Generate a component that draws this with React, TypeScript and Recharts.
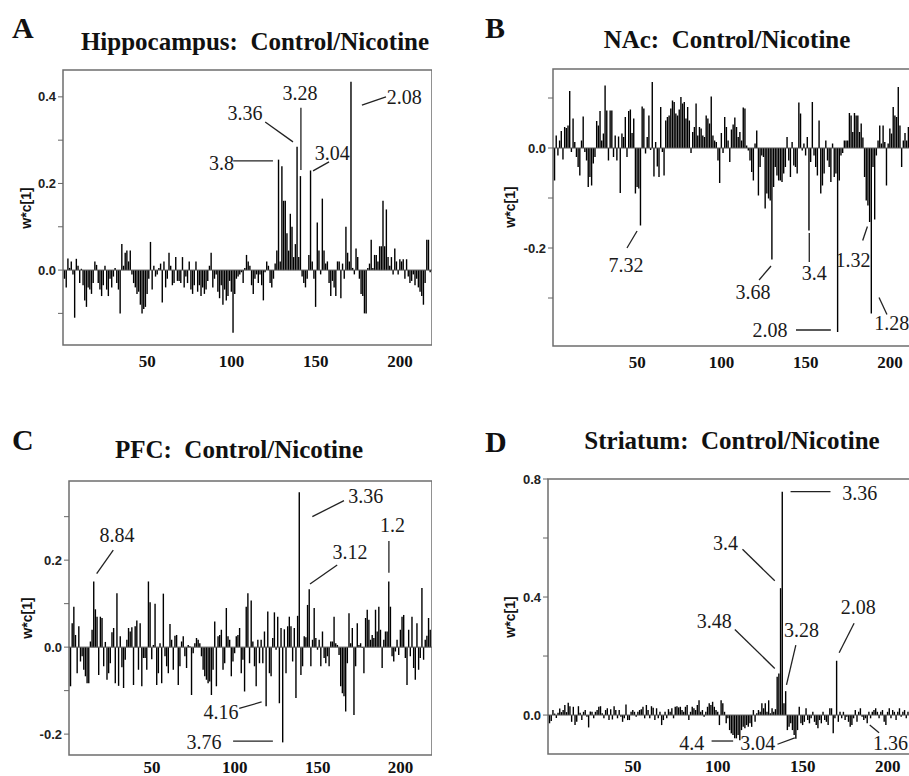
import React from 'react';
import { BarChart, Bar, XAxis, YAxis, ReferenceLine, ReferenceArea, ReferenceDot } from 'recharts';

// variable numbers on the x axis
const variables: number[] = Array.from({ length: 218 }, (_, i) => i + 1);
const xTicks = [50, 100, 150, 200];

const hippocampus = [
  -0.02, -0.04, 0.027, 0.005, 0.02, -0.01, -0.11, 0.026, 0.01, -0.03,
  0.003, -0.035, -0.07, -0.085, -0.04, -0.045, -0.055, -0.03, 0.02, 0.012,
  -0.03, -0.045, -0.06, -0.035, 0.01, -0.045, -0.06, -0.02, -0.04, -0.015,
  0.005, -0.03, -0.045, -0.1, 0.06, 0.01, 0.04, 0.045, 0.02, 0.045,
  -0.01, -0.03, -0.04, -0.055, -0.05, -0.08, -0.1, -0.09, -0.085, -0.055,
  -0.02, 0.065, -0.045, 0.01, -0.015, -0.01, 0.005, 0.015, -0.075, 0.02,
  -0.04, -0.02, 0.04, 0.01, -0.035, -0.03, 0.03, -0.025, -0.025, -0.03,
  0.03, -0.04, -0.015, -0.03, 0.02, -0.045, -0.055, -0.035, 0.02, -0.05,
  -0.035, -0.06, -0.04, -0.055, -0.045, -0.025, 0.01, 0.04, -0.04, -0.02,
  -0.01, -0.05, -0.065, -0.035, -0.08, -0.045, -0.07, -0.06, -0.025, -0.05,
  -0.145, -0.055, -0.02, -0.015, -0.01, -0.005, -0.03, 0.005, 0.035, 0.02,
  0.01, -0.035, -0.055, -0.02, -0.01, -0.03, -0.01, -0.035, -0.07, -0.005,
  0.02, 0.01, -0.03, -0.04, -0.02, 0.015, 0.045, 0.255, 0.02, 0.24,
  0.16, 0.16, 0.085, 0.045, 0.13, 0.1, 0.03, 0.06, 0.285, 0.03,
  0.217, -0.015, -0.03, -0.04, -0.02, 0.035, 0.23, 0.02, -0.02, -0.085,
  0.11, 0.045, -0.01, 0.165, 0.045, 0.015, 0.02, -0.03, -0.06, -0.025,
  -0.04, -0.06, 0.02, 0.02, -0.065, 0.015, -0.02, 0.1, 0.04, 0.02,
  0.435, 0.005, -0.01, 0.05, 0.03, -0.02, -0.055, -0.06, -0.1, -0.1,
  0.005, 0.015, 0.07, 0.005, 0.035, 0.035, 0.02, 0.055, 0.055, 0.16,
  0.055, 0.14, 0.03, 0.01, 0.03, -0.01, 0.05, 0.02, -0.01, 0.025,
  0.02, 0.025, -0.02, 0.025, -0.015, -0.03, -0.025, -0.01, -0.035, -0.02,
  -0.04, -0.05, -0.06, -0.08, -0.03, 0.07, 0.07, -0.005,
];

const nac = [
  -0.065, 0.025, -0.015, 0.015, 0.034, -0.023, 0.042, 0.04, 0.045, 0.114,
  -0.008, 0.059, 0.012, -0.018, -0.038, -0.055, 0.015, 0.063, -0.008, -0.025,
  -0.078, -0.058, -0.075, -0.031, -0.018, 0.054, 0.045, 0.074, 0.015, 0.029,
  0.125, 0.075, -0.025, 0.075, 0.075, -0.018, 0.025, -0.025, 0.023, -0.09,
  0.029, 0.022, 0.062, -0.018, 0.074, 0.077, 0.03, 0.059, -0.091, -0.078,
  -0.081, -0.155, 0.083, 0.079, -0.011, 0.022, 0.065, -0.004, 0.132, -0.057,
  0.012, -0.037, -0.058, 0.082, -0.008, -0.055, 0.055, 0.062, 0.065, 0.079,
  0.095, 0.092, 0.069, 0.065, 0.077, 0.102, 0.089, 0.092, 0.059, 0.082,
  0.055, -0.01, 0.032, 0.042, 0.089, 0.025, 0.042, 0.039, 0.025, 0.022,
  0.065, 0.059, 0.049, 0.103, 0.025, 0.015, 0.012, -0.025, -0.07, 0.03,
  -0.01, 0.062, 0.042, 0.015, -0.028, 0.037, 0.047, 0.061, 0.042, 0.022,
  0.032, 0.015, 0.081, 0.079, 0.005, -0.005, -0.025, -0.048, -0.065, 0.009,
  0.035, -0.095, -0.038, -0.015, -0.018, -0.121, -0.091, -0.101, -0.105, -0.223,
  -0.078, -0.038, -0.055, -0.065, -0.065, -0.068, -0.051, -0.038, 0.022, -0.025,
  -0.058, 0.012, -0.035, -0.038, -0.051, 0.091, 0.069, -0.005, 0.009, -0.015,
  0.022, -0.165, -0.028, 0.092, -0.015, -0.038, -0.055, 0.055, -0.091, -0.075,
  -0.051, 0.015, -0.025, -0.038, -0.068, 0.009, -0.058, -0.051, -0.368, -0.065,
  -0.015, -0.01, 0.015, 0.015, 0.015, 0.07, 0.065, 0.032, 0.07, 0.065,
  0.065, 0.032, 0.049, 0.021, -0.058, -0.105, -0.115, -0.148, -0.331, -0.038,
  -0.143, -0.015, 0.015, 0.045, 0.009, 0.045, 0.012, -0.075, 0.009, 0.039,
  0.029, 0.082, 0.065, 0.062, 0.122, 0.045, -0.038, 0.015, 0.03, 0.015,
  0.042, 0.02, -0.01, 0.03, 0.01, -0.02, 0.025, 0.015,
];

const pfc = [
  -0.09, 0.055, 0.093, 0.028, -0.06, 0.048, -0.033, -0.021, -0.052, -0.067,
  -0.083, -0.083, 0.013, 0.04, 0.151, 0.087, 0.07, -0.064, 0.07, 0.067,
  -0.044, 0.012, -0.075, -0.06, -0.037, 0.034, 0.044, -0.083, 0.124, -0.089,
  0.025, -0.046, -0.094, -0.029, 0.017, 0.044, 0.036, 0.046, -0.087, 0.048,
  0.061, -0.052, 0.055, -0.09, -0.025, -0.025, -0.052, 0.151, 0.103, -0.028,
  0.005, 0.1, -0.087, -0.06, 0.009, -0.083, 0.123, -0.021, -0.044, -0.06,
  0.053, 0.017, -0.052, 0.026, 0.028, -0.087, -0.044, 0.013, 0.025, -0.021,
  -0.048, 0.005, 0.002, -0.11, -0.014, 0.009, 0.021, 0.017, 0.009, -0.021,
  -0.052, -0.067, -0.075, -0.083, -0.079, -0.11, -0.052, 0.059, -0.09, 0.025,
  0.028, 0.04, -0.052, -0.037, 0.09, 0.025, 0.017, -0.067, -0.033, -0.014,
  0.025, 0.028, 0.044, -0.06, -0.029, -0.102, 0.093, 0.124, -0.037, 0.107,
  0.013, -0.044, -0.09, 0.017, -0.037, 0.017, -0.037, 0.036, -0.136, 0.082,
  -0.06, -0.067, 0.021, 0.08, -0.006, 0.07, -0.129, 0.044, -0.219, 0.041,
  -0.06, 0.048, 0.07, 0.048, -0.033, 0.044, -0.117, 0.072, 0.356, -0.064,
  -0.044, 0.025, 0.023, 0.097, 0.133, -0.044, 0.017, 0.09, 0.021, -0.006,
  0.017, -0.044, 0.036, -0.025, -0.037, -0.021, -0.044, 0.013, 0.013, 0.07,
  0.009, 0.005, -0.018, -0.09, -0.106, -0.113, -0.148, -0.037, 0.078, 0.009,
  0.044, -0.156, -0.044, 0.055, 0.005, 0.009, -0.002, -0.06, 0.067, 0.086,
  0.063, 0.017, 0.028, 0.021, 0.086, 0.036, 0.093, 0.04, -0.048, 0.017,
  0.036, 0.036, 0.151, 0.093, -0.021, -0.033, -0.01, 0.017, -0.018, 0.04,
  0.07, 0.074, -0.025, -0.087, 0.04, -0.021, 0.07, -0.048, -0.075, 0.055,
  -0.052, -0.025, 0.136, -0.029, 0.017, 0.026, 0.067, 0.04,
];

const striatum = [
  -0.028, -0.02, 0.017, 0.005, -0.01, 0.008, 0.022, 0.01, 0.017, 0.034,
  0.01, 0.042, 0.03, -0.023, 0.028, -0.034, -0.023, 0.03, 0.008, -0.017,
  0.011, 0.017, -0.006, -0.042, 0.012, 0.011, -0.011, 0.011, 0.017, 0.028,
  0.03, 0.006, -0.011, 0.017, 0.023, -0.017, 0.02, -0.015, 0.03, 0.017,
  -0.011, 0.017, -0.006, -0.023, -0.011, 0.036, -0.017, -0.017, 0.011, 0.017,
  0.011, -0.006, 0.011, 0.017, 0.02, 0.028, -0.011, 0.034, 0.017, -0.011,
  0.03, 0.025, -0.017, 0.023, -0.011, 0.011, -0.034, -0.017, 0.011, -0.011,
  0.02, 0.011, 0.023, -0.011, 0.028, 0.03, 0.026, 0.028, 0.017, 0.011,
  0.028, 0.034, -0.017, 0.011, 0.028, 0.023, 0.017, 0.034, 0.05, 0.011,
  0.017, -0.006, 0.011, 0.028, 0.04, 0.034, 0.045, 0.028, 0.017, 0.011,
  -0.034, 0.05, 0.04, 0.011, -0.028, -0.011, -0.051, -0.062, -0.068, -0.079,
  -0.079, -0.068, -0.085, -0.051, -0.04, -0.045, -0.034, -0.04, -0.028, -0.04,
  0.017, -0.023, 0.006, 0.017, 0.011, 0.04, 0.023, 0.04, 0.011, 0.05,
  0.006, 0.023, 0.011, 0.02, 0.13, 0.141, 0.43, 0.757, 0.04, 0.081,
  -0.051, -0.04, -0.028, -0.051, -0.068, -0.08, -0.051, 0.028, -0.028, -0.034,
  -0.023, 0.023, -0.017, -0.028, -0.011, 0.011, -0.023, -0.034, -0.045, -0.017,
  -0.028, 0.011, -0.017, -0.023, -0.034, 0.023, 0.023, -0.062, -0.011, 0.184,
  -0.023, 0.011, -0.011, 0.011, -0.017, -0.006, -0.023, -0.04, -0.034, -0.011,
  0.017, -0.023, 0.011, 0.023, -0.006, -0.017, -0.011, -0.028, 0.011, -0.011,
  0.011, 0.017, 0.023, 0.011, -0.011, 0.011, 0.017, -0.023, -0.034, 0.011,
  0.023, -0.011, 0.017, 0.011, -0.017, 0.011, 0.023, -0.006, 0.011, 0.017,
  -0.011, 0.011, 0.017, 0.02, -0.01, 0.015, 0.01, -0.015,
];

type Note = { label: string; tx: number; ty: number; seg: [number, number, number, number] };

const hippoNotes: Note[] = [
  { label: '3.8', tx: 94, ty: 0.247, seg: [101, 0.252, 124.6, 0.252] },
  { label: '3.36', tx: 108, ty: 0.363, seg: [120, 0.342, 136.5, 0.296] },
  { label: '3.28', tx: 140.7, ty: 0.41, seg: [141.2, 0.375, 141.2, 0.231] },
  { label: '3.04', tx: 159.8, ty: 0.27, seg: [148.4, 0.229, 157.9, 0.25] },
  { label: '2.08', tx: 202.5, ty: 0.4, seg: [177.4, 0.381, 191.7, 0.4] },
];
const nacNotes: Note[] = [
  { label: '7.32', tx: 43.3, ty: -0.234, seg: [43.9, -0.2, 49.9, -0.166] },
  { label: '3.68', tx: 118.7, ty: -0.288, seg: [122.3, -0.264, 129.4, -0.236] },
  { label: '3.4', tx: 155, ty: -0.25, seg: [152.1, -0.17, 152.1, -0.228] },
  { label: '2.08', tx: 128.8, ty: -0.364, seg: [144.2, -0.364, 164.9, -0.364] },
  { label: '1.32', tx: 178, ty: -0.224, seg: [183.8, -0.185, 186.6, -0.157] },
  { label: '1.28', tx: 201, ty: -0.35, seg: [193.5, -0.299, 198.2, -0.333] },
];
const pfcNotes: Note[] = [
  { label: '8.84', tx: 29, ty: 0.257, seg: [26.7, 0.223, 16.7, 0.169] },
  { label: '4.16', tx: 91.7, ty: -0.149, seg: [102.7, -0.141, 116.2, -0.126] },
  { label: '3.76', tx: 81.4, ty: -0.218, seg: [99, -0.216, 123, -0.216] },
  { label: '3.36', tx: 179, ty: 0.347, seg: [146.8, 0.3, 165.9, 0.337] },
  { label: '3.12', tx: 169.5, ty: 0.219, seg: [145.4, 0.145, 161.8, 0.189] },
  { label: '1.2', tx: 195.1, ty: 0.28, seg: [193, 0.244, 193, 0.171] },
];
const striatumNotes: Note[] = [
  { label: '3.36', tx: 183.5, ty: 0.753, seg: [142.8, 0.757, 166.3, 0.757] },
  { label: '3.4', tx: 104.5, ty: 0.583, seg: [114.5, 0.562, 133.5, 0.455] },
  { label: '3.48', tx: 97.8, ty: 0.32, seg: [110, 0.29, 133.5, 0.158] },
  { label: '3.28', tx: 149.3, ty: 0.288, seg: [145.9, 0.237, 140.4, 0.102] },
  { label: '2.08', tx: 182.6, ty: 0.366, seg: [180.2, 0.311, 171.4, 0.211] },
  { label: '4.4', tx: 84.7, ty: -0.096, seg: [96.3, -0.088, 109, -0.088] },
  { label: '3.04', tx: 123.5, ty: -0.096, seg: [135.1, -0.099, 145.3, -0.077] },
  { label: '1.36', tx: 201.6, ty: -0.096, seg: [189.4, -0.034, 194.9, -0.06] },
];

const SERIF = '"Liberation Serif", "Times New Roman", serif';
const SANS = '"Liberation Sans", Arial, sans-serif';
const AXIS_W = 60;
const PAD_TOP = 12;

interface PanelProps {
  values: number[];
  notes: Note[];
  left: number;
  top: number;
  width: number;
  height: number;
  yDomain: [number, number];
  yTicks: number[];
  yLabeled: number[];
  xLabelGap: number;
}

const Panel = ({ values, notes, left, top, width, height, yDomain, yTicks, yLabeled, xLabelGap }: PanelProps) => {
  const data = variables.map((v, i) => ({ v, w: values[i] }));
  return (
    <div style={{ position: 'absolute', left: left - AXIS_W, top: top - PAD_TOP }}>
      <BarChart
        width={width + AXIS_W}
        height={height + 30 + PAD_TOP}
        data={data}
        margin={{ top: PAD_TOP, right: 0, bottom: 0, left: 0 }}
      >
        <XAxis
          dataKey="v"
          type="number"
          domain={[0, 219]}
          ticks={xTicks}
          interval={0}
          allowDataOverflow
          height={30}
          axisLine={false}
          tickLine={false}
          tickSize={6}
          tickMargin={xLabelGap}
          tick={{ fontFamily: SERIF, fontWeight: 'bold', fontSize: 17, fill: '#111' }}
        />
        <YAxis
          type="number"
          domain={yDomain}
          ticks={yTicks}
          interval={0}
          allowDataOverflow
          width={AXIS_W}
          axisLine={false}
          tickLine={{ stroke: '#666' }}
          tickSize={5}
          tickMargin={2}
          tickFormatter={(t: number) => (yLabeled.includes(t) ? t.toFixed(1) : '')}
          tick={{ fontFamily: SANS, fontWeight: 'bold', fontSize: 13, fill: '#222' }}
        />
        <ReferenceLine y={0} stroke="#555" strokeWidth={1} />
        <Bar dataKey="w" fill="#000" barSize={1.4} isAnimationActive={false} />
        <ReferenceArea
          x1={0}
          x2={219}
          y1={yDomain[0]}
          y2={yDomain[1]}
          fill="none"
          stroke="#6e6e6e"
          strokeWidth={1.5}
          ifOverflow="visible"
        />
        {notes.map((n) => (
          <ReferenceLine
            key={'l' + n.label + n.tx}
            segment={[{ x: n.seg[0], y: n.seg[1] }, { x: n.seg[2], y: n.seg[3] }]}
            stroke="#222"
            strokeWidth={1.3}
            ifOverflow="visible"
          />
        ))}
        {notes.map((n) => (
          <ReferenceDot
            key={'t' + n.label + n.tx}
            x={n.tx}
            y={n.ty}
            r={0}
            fill="none"
            stroke="none"
            ifOverflow="visible"
            label={{ value: n.label, position: 'center', fill: '#1a1a1a', fontSize: 20, fontFamily: SERIF }}
          />
        ))}
      </BarChart>
    </div>
  );
};

const YLabel = ({ x, y }: { x: number; y: number }) => (
  <text
    x={x}
    y={y}
    transform={`rotate(-90, ${x}, ${y})`}
    textAnchor="middle"
    dominantBaseline="central"
    fontFamily={SANS}
    fontWeight="bold"
    fontSize={14}
    fill="#111"
  >
    w*c[1]
  </text>
);

const App = () => {
  return (
    <div style={{ position: 'absolute', left: 0, top: 0, width: 909, height: 776, overflow: 'hidden', background: '#fff' }}>
      <Panel values={hippocampus} notes={hippoNotes} left={63} top={70} width={369} height={275} xLabelGap={4}
        yDomain={[-0.173, 0.462]} yTicks={[-0.1, 0, 0.1, 0.2, 0.3, 0.4]} yLabeled={[0, 0.2, 0.4]} />
      <Panel values={nac} notes={nacNotes} left={553} top={69} width={369} height={277} xLabelGap={4}
        yDomain={[-0.396, 0.158]} yTicks={[-0.3, -0.2, -0.1, 0, 0.1]} yLabeled={[-0.2, 0]} />
      <Panel values={pfc} notes={pfcNotes} left={69} top={481} width={363} height={274} xLabelGap={0}
        yDomain={[-0.248, 0.382]} yTicks={[-0.2, -0.1, 0, 0.1, 0.2, 0.3]} yLabeled={[-0.2, 0, 0.2]} />
      <Panel values={striatum} notes={striatumNotes} left={548} top={479} width={372} height={275} xLabelGap={0}
        yDomain={[-0.132, 0.8]} yTicks={[0, 0.2, 0.4, 0.6, 0.8]} yLabeled={[0, 0.4, 0.8]} />
      <svg width={909} height={776} style={{ position: 'absolute', left: 0, top: 0, pointerEvents: 'none' }}>
        <g fontFamily={SERIF} fontWeight="bold" fill="#111">
          <text x={12} y={38} fontSize={30}>A</text>
          <text x={485} y={38} fontSize={30}>B</text>
          <text x={12} y={450} fontSize={30}>C</text>
          <text x={485} y={452} fontSize={30}>D</text>
          <text x={255} y={50} fontSize={25} textAnchor="middle" style={{ whiteSpace: 'pre' }}>Hippocampus:  Control/Nicotine</text>
          <text x={727} y={48} fontSize={25} textAnchor="middle" style={{ whiteSpace: 'pre' }}>NAc:  Control/Nicotine</text>
          <text x={239} y={458} fontSize={25} textAnchor="middle" style={{ whiteSpace: 'pre' }}>PFC:  Control/Nicotine</text>
          <text x={732} y={449} fontSize={25} textAnchor="middle" style={{ whiteSpace: 'pre' }}>Striatum:  Control/Nicotine</text>
        </g>
        <YLabel x={26} y={208} />
        <YLabel x={510} y={207} />
        <YLabel x={27} y={618} />
        <YLabel x={510} y={617} />
      </svg>
    </div>
  );
};

export default App;
